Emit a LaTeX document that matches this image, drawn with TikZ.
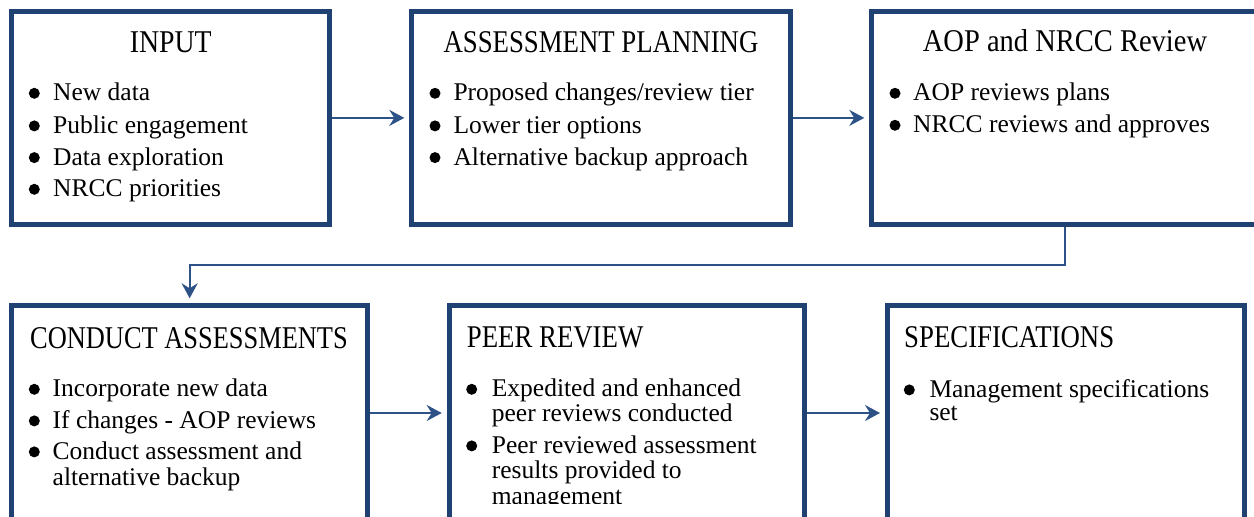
\documentclass[tikz,border=0pt]{standalone}
\usepackage{fontspec}
\setmainfont{Liberation Serif}
\usetikzlibrary{arrows.meta}
\definecolor{boxblue}{RGB}{32,66,114}
\definecolor{linkblue}{RGB}{44,82,135}
\tikzset{
  box/.style={draw=boxblue, line width=5pt, rectangle, inner sep=0pt, fill=white},
  conn/.style={draw=linkblue, line width=2pt, -{Stealth[length=15pt,width=16pt,inset=5pt]}, shorten >=5pt},
  ttl/.style={anchor=base, inner sep=0pt, font=\fontsize{26.8}{30}\selectfont},
  ttlw/.style={anchor=base west, inner sep=0pt, font=\fontsize{26.8}{30}\selectfont},
  ln/.style={anchor=base west, inner sep=0pt, font=\fontsize{25.5}{30}\selectfont},
  bul/.style={circle, fill=black, inner sep=0pt, minimum size=11pt}
}
\newcommand{\ttlstretch}[1]{\scalebox{1}[1.18]{#1}}
\begin{document}
\begin{tikzpicture}[x=1pt,y=-1pt]
\clip (0,0) rectangle (1254,517);
\fill[white] (0,0) rectangle (1254,517);
% boxes
\node[box, minimum width=317.7pt, minimum height=212.7pt] (input) at (170.7,117.9) {};
\node[box, minimum width=378.4pt, minimum height=212.7pt] (plan) at (601,117.9) {};
\node[box, minimum width=386.4pt, minimum height=212.7pt] (aop) at (1065,117.9) {};
\node[box, minimum width=355.7pt, minimum height=234.2pt] (conduct) at (189.65,422.9) {};
\node[box, minimum width=355pt, minimum height=234.2pt] (peer) at (626.7,422.9) {};
\node[box, minimum width=357pt, minimum height=234.2pt] (spec) at (1066,422.9) {};
% connectors
\coordinate (turn) at (0,265);
\coordinate (lowrow) at (0,413);
\draw[conn] (input.east) -- (plan.west);
\draw[conn] (plan.east) -- (aop.west);
\draw[conn] (aop.south) -- (aop.south |- turn) -| (conduct.north);
\draw[conn] (conduct.east |- lowrow) -- (peer.west |- lowrow);
\draw[conn] (peer.east |- lowrow) -- (spec.west |- lowrow);
% INPUT
\node[ttl, font=\fontsize{27.8}{30}\selectfont] (t1) at (170.7,52.7) {\scalebox{1}[1.14]{INPUT}};
\node[bul] (b11) at (34.3,93.3) {};
\node[ln] (l11) at (53,100.7) {New data};
\node[bul] (b12) at (34.3,125.9) {};
\node[ln] (l12) at (53,133.3) {Public engagement};
\node[bul] (b13) at (34.3,157.6) {};
\node[ln] (l13) at (53,165) {Data exploration};
\node[bul] (b14) at (34.3,189.3) {};
\node[ln] (l14) at (53,196.7) {NRCC priorities};
% ASSESSMENT PLANNING
\node[ttl] (t2) at (601,52.7) {\ttlstretch{ASSESSMENT PLANNING}};
\node[bul] (b21) at (435,93.3) {};
\node[ln] (l21) at (453.3,100.7) {Proposed changes/review tier};
\node[bul] (b22) at (435,125.9) {};
\node[ln] (l22) at (453.3,133.3) {Lower tier options};
\node[bul] (b23) at (435,157.6) {};
\node[ln] (l23) at (453.3,165) {Alternative backup approach};
% AOP and NRCC Review
\node[ttl, font=\fontsize{28.5}{30}\selectfont] (t3) at (1065,51.7) {\scalebox{1}[1.11]{AOP and NRCC Review}};
\node[bul] (b31) at (895,93.3) {};
\node[ln] (l31) at (913,100.7) {AOP reviews plans};
\node[bul] (b32) at (895,125.3) {};
\node[ln] (l32) at (913,132.7) {NRCC reviews and approves};
% CONDUCT ASSESSMENTS
\node[ttlw, font=\fontsize{26.4}{30}\selectfont] (t4) at (30,348.3) {\scalebox{1}[1.2]{CONDUCT ASSESSMENTS}};
\node[bul] (b41) at (34.3,389.3) {};
\node[ln] (l41) at (52.5,396.7) {Incorporate new data};
\node[bul] (b42) at (34.3,420.9) {};
\node[ln] (l42) at (52.5,428.3) {If changes - AOP reviews};
\node[bul] (b43) at (34.3,451.9) {};
\node[ln] (l43) at (52.5,459.3) {Conduct assessment and};
\node[ln] (l44) at (52.5,485.7) {alternative backup};
% PEER REVIEW
\node[ttlw] (t5) at (466.7,347.7) {\ttlstretch{PEER REVIEW}};
\node[bul] (b51) at (471.7,389.3) {};
\node[ln] (l51) at (491.7,396.7) {Expedited and enhanced};
\node[ln] (l52) at (491.7,421.7) {peer reviews conducted};
\node[bul] (b52) at (471.7,445.9) {};
\node[ln] (l53) at (491.7,453.3) {Peer reviewed assessment};
\node[ln] (l54) at (491.7,478.3) {results provided to};
\begin{scope}
\clip (455,480) rectangle (800,503.5);
\node[ln] (l55) at (491.7,504) {management};
\end{scope}
% SPECIFICATIONS
\node[ttlw] (t6) at (904,347.3) {\ttlstretch{SPECIFICATIONS}};
\node[bul] (b61) at (909.3,389.9) {};
\node[ln] (l61) at (929.3,397.3) {Management specifications};
\node[ln] (l62) at (929.3,420.7) {set};
\end{tikzpicture}
\end{document}
